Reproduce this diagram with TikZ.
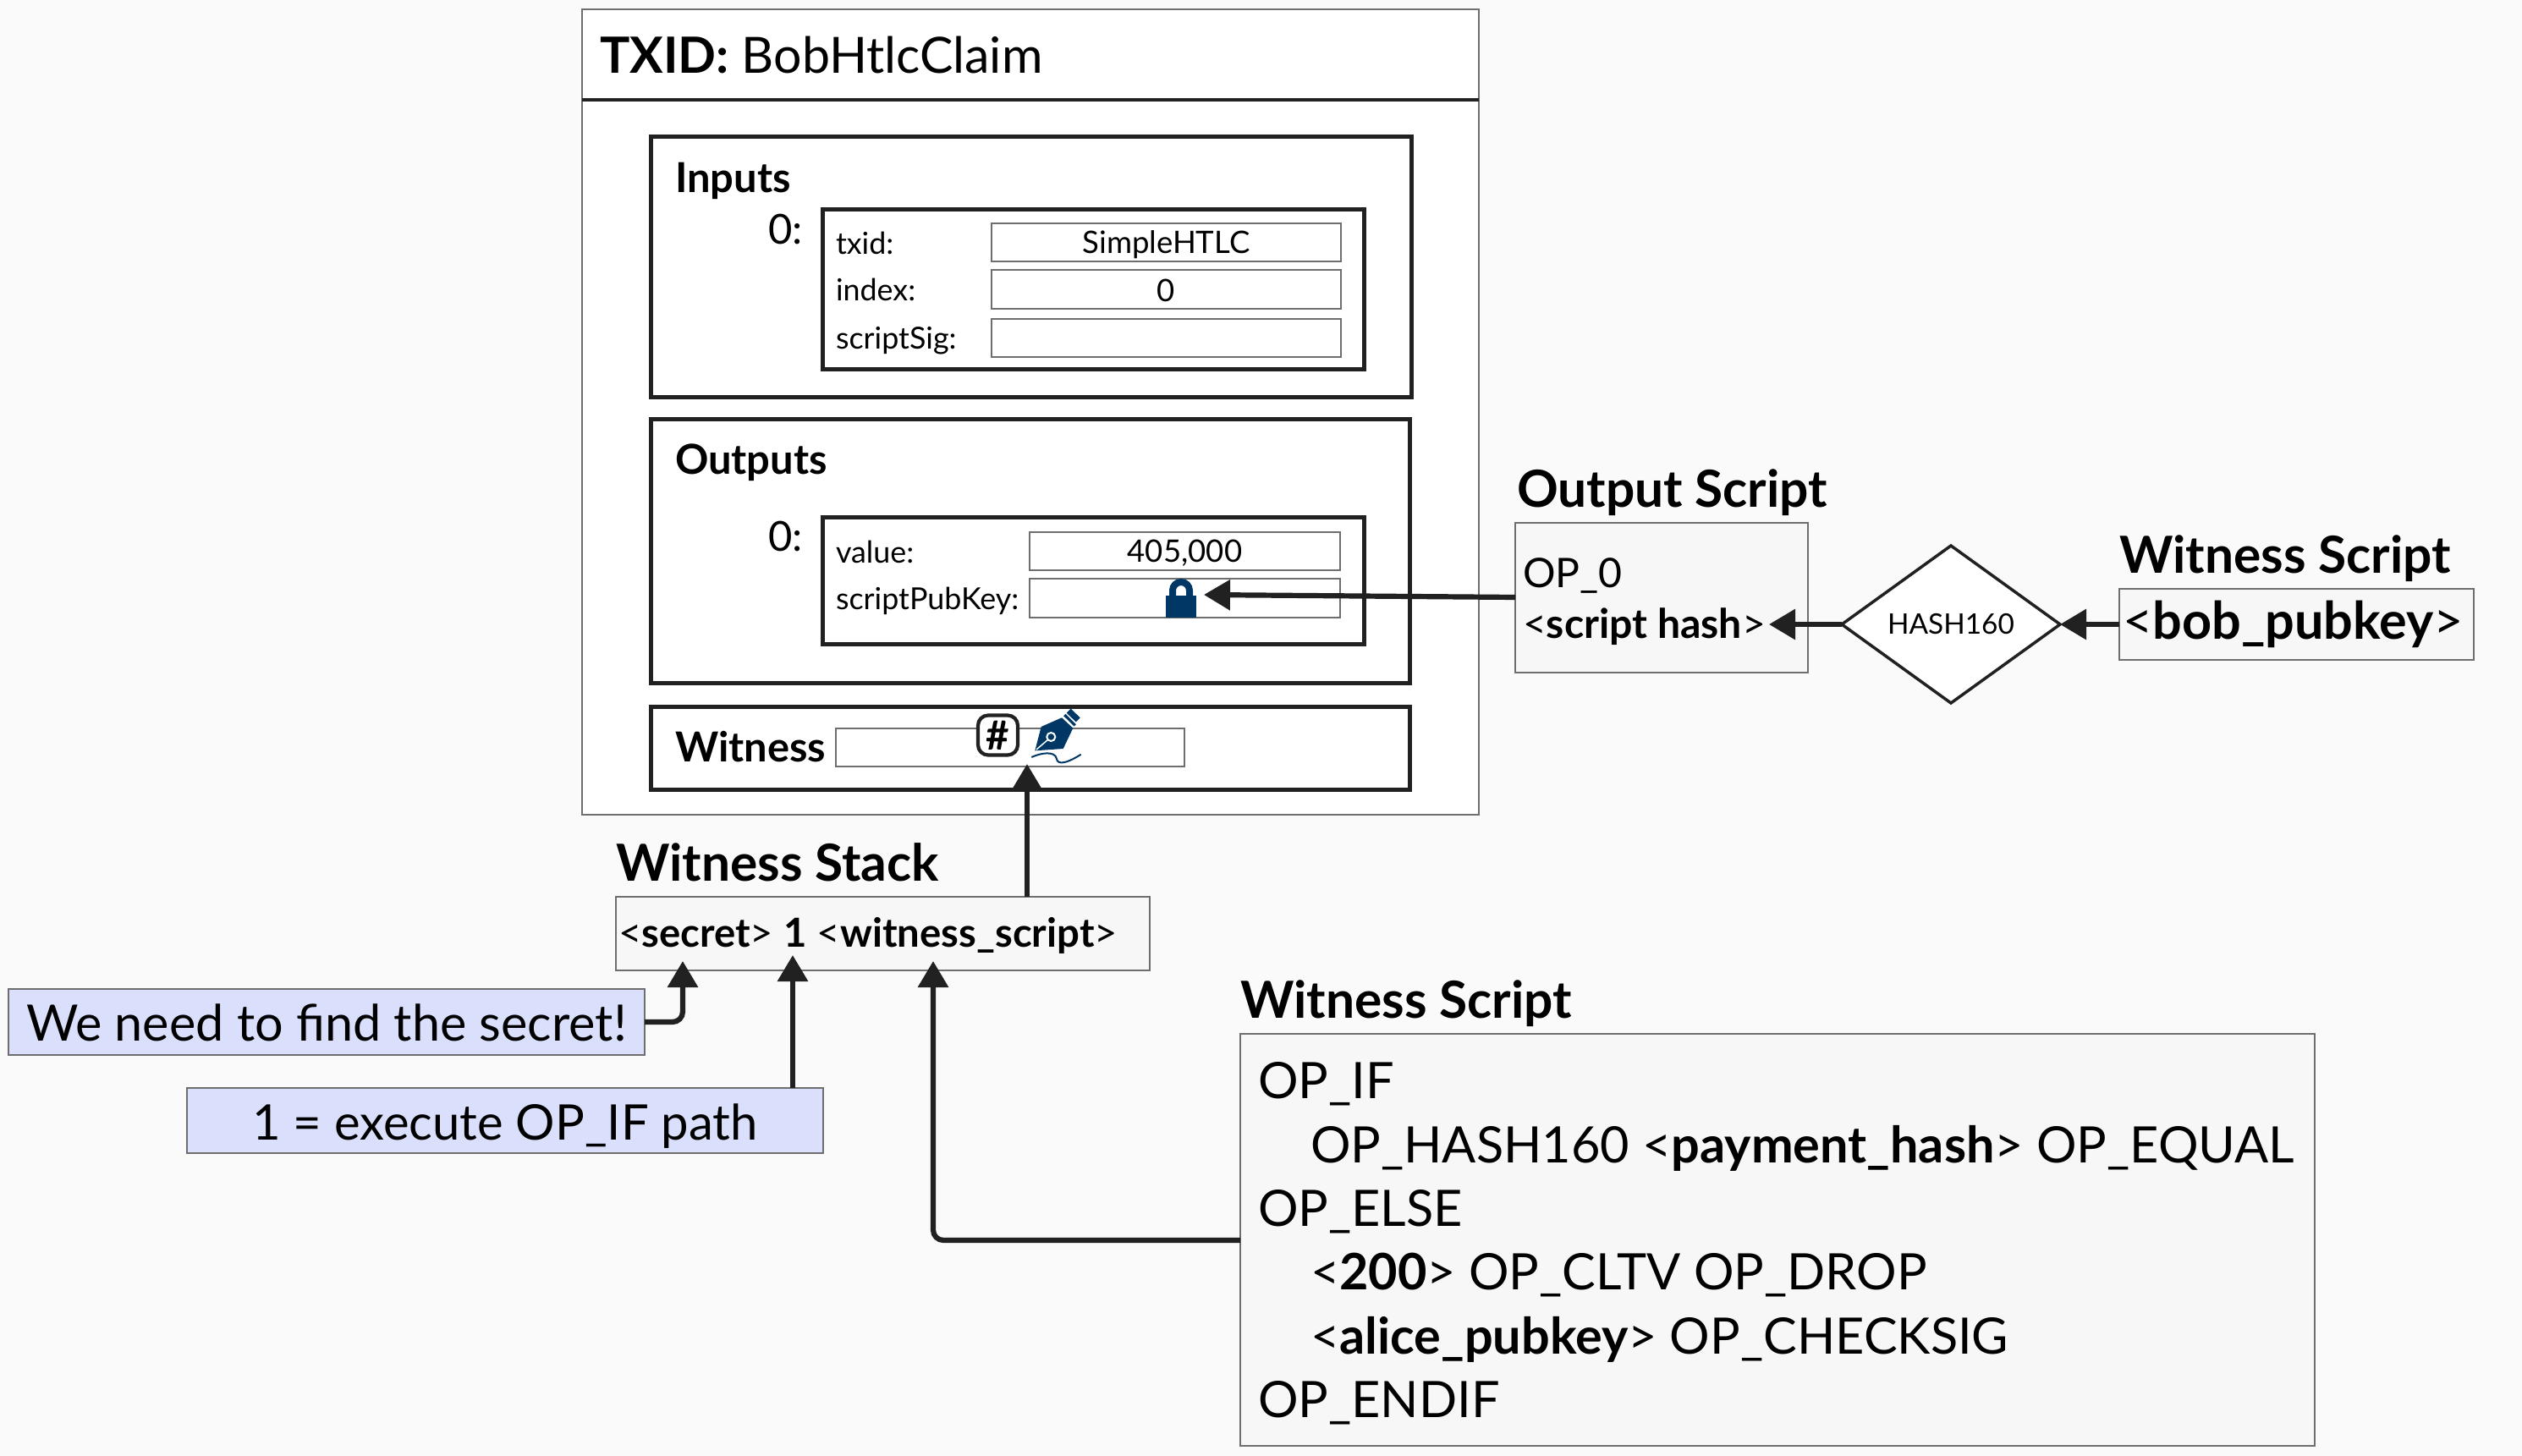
\documentclass[tikz,border=0pt]{standalone}
\usepackage{fontspec}
\setmainfont{Lato}
\usepackage{xcolor}
\usetikzlibrary{arrows.meta,shapes.geometric,positioning}
\definecolor{paper}{HTML}{FAFAFA}
\definecolor{scriptfill}{HTML}{F7F7F7}
\definecolor{notefill}{HTML}{DAE0FB}
\definecolor{iconblue}{HTML}{003764}
\definecolor{ink}{HTML}{212121}
\definecolor{rim}{HTML}{6E6E6E}
\newcommand{\sunk}[2]{\raisebox{-#1}[0pt][0pt]{#2}}
\tikzset{
	boxed/.style 2 args={draw,anchor=north west,inner sep=0pt,outer sep=0pt,minimum width=#1cm,minimum height=#2cm},
	txbox/.style={rim,fill=white,line width=0.22mm},
	section/.style={ink,fill=white,line width=0.5mm},
	field/.style={rim,fill=white,line width=0.18mm,font=\fontsize{10.4}{13}\selectfont,text=black},
	scriptbox/.style={rim,fill=scriptfill,line width=0.18mm},
	notebox/.style={rim,fill=notefill,line width=0.18mm,text=black},
	txt/.style={anchor=mid west,inner sep=0pt,outer sep=0pt},
	small/.style={txt,font=\fontsize{10.2}{13}\selectfont},
	mid/.style={txt,font=\fontsize{13.9}{16}\selectfont},
	midbold/.style={txt,font=\fontsize{13.9}{16}\selectfont\bfseries},
	stackfont/.style={txt,font=\fontsize{13.7}{16}\selectfont},
	code/.style={txt,font=\fontsize{16.9}{20}\selectfont},
	head/.style={txt,font=\fontsize{17.2}{20}\selectfont\bfseries},
	flow/.style={ink,line width=0.62mm,rounded corners=1.2mm,-{Triangle[length=3.1mm,width=3.5mm]}},
}
\begin{document}
\begin{tikzpicture}
	\useasboundingbox[fill=paper] (0,0) rectangle (29.81,-17.21);
	% transaction
	\node[boxed={10.6}{9.52},txbox] (tx) at (6.88,-0.11) {};
	\draw[ink,line width=0.45mm] (tx.west |- 0,-1.18) -- (tx.east |- 0,-1.18);
	\node[txt,font=\fontsize{16.8}{20}\selectfont] (txid) at (7.09,-0.78) {\textbf{TXID:} BobHtlcClaim};
	% inputs
	\node[boxed={8.99}{3.08},section] (inputs) at (7.69,-1.62) {};
	\node[boxed={6.4}{1.89},section] (inbox) at (9.72,-2.48) {};
	\node[midbold] (inlabel) at (7.98,-2.19) {Inputs};
	\node[mid] (inzero) at (9.08,-2.8) {0:};
	\node[small] (txidlabel) at (9.88,-2.92) {txid:};
	\node[small] (indexlabel) at (9.88,-3.47) {index:};
	\node[small] (siglabel) at (9.88,-4.04) {scriptSig:};
	\node[boxed={4.13}{0.45},field] (txidfield) at (11.72,-2.64) {\sunk{1.35mm}{SimpleHTLC}};
	\node[boxed={4.13}{0.46},field] (indexfield) at (11.72,-3.19) {\sunk{1.45mm}{0}};
	\node[boxed={4.13}{0.45},field] (sigfield) at (11.72,-3.77) {};
	% outputs
	\node[boxed={8.97}{3.11},section] (outputs) at (7.69,-4.96) {};
	\node[boxed={6.4}{1.5},section] (outbox) at (9.72,-6.12) {};
	\node[midbold] (outlabel) at (7.98,-5.52) {Outputs};
	\node[mid] (outzero) at (9.08,-6.43) {0:};
	\node[small] (valuelabel) at (9.88,-6.57) {value:};
	\node[small] (pubkeylabel) at (9.88,-7.12) {scriptPubKey:};
	\node[boxed={3.67}{0.45},field] (valuefield) at (12.17,-6.29) {\sunk{1.35mm}{405,000}};
	\node[boxed={3.67}{0.46},field] (pubkeyfield) at (12.17,-6.84) {};
	% lock
	\fill[iconblue] (13.78,-7.3) rectangle (14.14,-7.04);
	\draw[iconblue,line width=0.8mm] (13.86,-7.08) -- (13.86,-6.98) arc (180:0:0.1) -- (14.06,-7.08);
	% witness
	\node[boxed={8.97}{0.98},section] (witness) at (7.69,-8.35) {};
	\node[midbold] (witnesslabel) at (7.98,-8.92) {Witness};
	\node[boxed={4.12}{0.45},field] (witnessfield) at (9.88,-8.61) {};
	% hash and pen
	\node[draw=ink,fill=white,line width=0.42mm,rounded corners=1.2mm,minimum size=0.47cm,inner sep=0pt,font=\fontsize{13.5}{14}\selectfont\bfseries] (hashicon) at (11.795,-8.69) {\#};
	\fill[iconblue] (12.233,-8.873) -- (12.307,-8.59) -- (12.55,-8.483) -- (12.683,-8.607) -- (12.567,-8.85) -- cycle;
	\draw[iconblue,line width=0.33mm] (12.583,-8.45) -- (12.707,-8.573);
	\fill[iconblue] (12.657,-8.377) -- (12.767,-8.483) -- (12.717,-8.533) -- (12.607,-8.427) -- cycle;
	\draw[white,line width=0.15mm] (12.25,-8.86) -- (12.39,-8.74);
	\draw[white,fill=iconblue,line width=0.2mm] (12.423,-8.71) circle (0.05);
	\draw[iconblue,line width=0.2mm] (12.193,-8.95) .. controls (12.3,-8.9) and (12.47,-8.87) .. (12.49,-8.97) .. controls (12.5,-9.04) and (12.6,-9.03) .. (12.777,-8.917);
	% stack
	\node[head] (stacklabel) at (7.28,-10.33) {Witness Stack};
	\node[boxed={6.31}{0.87},scriptbox] (stack) at (7.28,-10.6) {};
	\node[txt,font=\fontsize{13.45}{16}\selectfont] (stacktext) at (7.31,-11.11) {<\textbf{secret}> \textbf{1} <\textbf{witness\_script}>};
	% notes
	\node[boxed={7.52}{0.78},notebox,font=\fontsize{16.9}{20}\selectfont] (secretnote) at (0.1,-11.69) {\sunk{2.2mm}{We need to find the secret!}};
	\node[boxed={7.52}{0.77},notebox,font=\fontsize{16.5}{20}\selectfont] (pathnote) at (2.21,-12.86) {\sunk{2.3mm}{1 = execute OP\_IF path}};
	% output script
	\node[head] (outscriptlabel) at (17.93,-5.91) {Output Script};
	\node[boxed={3.46}{1.77},scriptbox] (outscript) at (17.91,-6.18) {};
	\node[stackfont] (opzero) at (18,-6.86) {OP\_0};
	\node[stackfont] (scripthash) at (18,-7.46) {<\textbf{script hash}>};
	% hash160
	\node[diamond,draw=ink,fill=white,line width=0.35mm,inner sep=0pt,outer sep=0pt,minimum width=2.58cm,minimum height=1.86cm,aspect=1.39,font=\fontsize{9.5}{11}\selectfont] (hashop) at (23.06,-7.38) {HASH160};
	% witness script small
	\node[head] (pubscriptlabel) at (25.05,-6.69) {Witness Script};
	\node[boxed={4.19}{0.84},scriptbox] (pubscript) at (25.05,-6.96) {};
	\node[txt,font=\fontsize{17.4}{20}\selectfont] (pubkeytext) at (25.09,-7.47) {<\textbf{bob\_pubkey}>};
	% witness script big
	\node[head] (bigscriptlabel) at (14.66,-11.95) {Witness Script};
	\node[boxed={12.7}{4.87},scriptbox] (bigscript) at (14.66,-12.22) {};
	\node[code] (line1) at (14.87,-12.9) {OP\_IF};
	\node[code] (line2) at (15.49,-13.66) {OP\_HASH160 <\textbf{payment\_hash}> OP\_EQUAL};
	\node[code] (line3) at (14.87,-14.41) {OP\_ELSE};
	\node[code] (line4) at (15.49,-15.16) {<\textbf{200}> OP\_CLTV OP\_DROP};
	\node[code] (line5) at (15.49,-15.92) {<\textbf{alice\_pubkey}> OP\_CHECKSIG};
	\node[code] (line6) at (14.87,-16.67) {OP\_ENDIF};
	% connectors
	\coordinate (locktip) at (14.23,-7.03);
	\coordinate (scripttip) at (20.91,-7.38);
	\coordinate (secrettip) at (8.07,-11.36);
	\coordinate (onetip) at (9.37,-11.29);
	\coordinate (scriptstacktip) at (11.03,-11.36);
	\coordinate (witnesstip) at (12.14,-9.03);
	\draw[flow] (outscript.west |- 0,-7.06) -- (locktip);
	\draw[flow] (hashop.west) -- (scripttip);
	\draw[flow] (pubscript.west |- hashop) -- (hashop.east);
	\draw[flow] (secretnote.east) -| (secrettip);
	\draw[flow] (pathnote.north -| onetip) -- (onetip);
	\draw[flow] (bigscript.west |- 0,-14.66) -| (scriptstacktip);
	\draw[flow] (stack.north -| witnesstip) -- (witnesstip);
\end{tikzpicture}
\end{document}
